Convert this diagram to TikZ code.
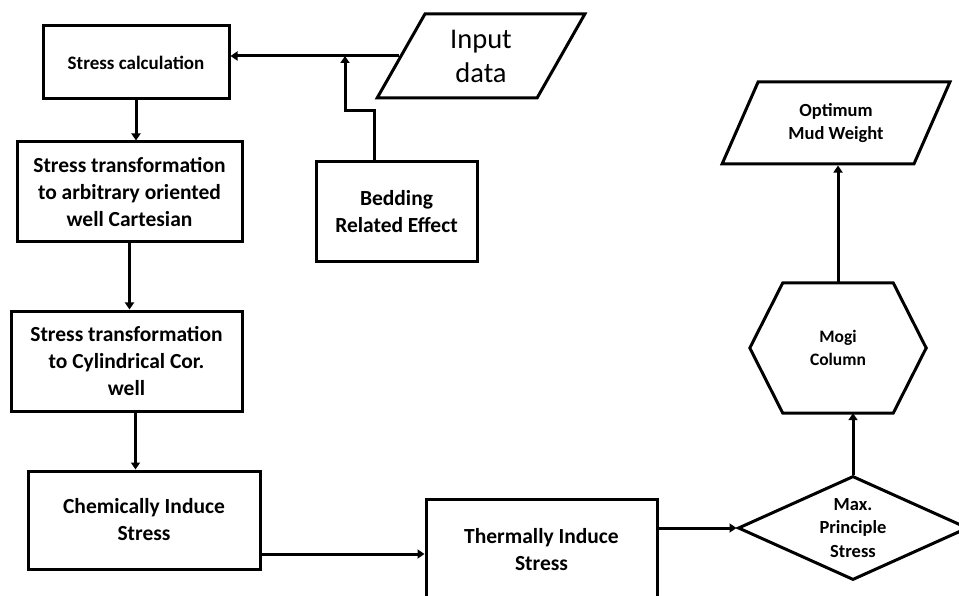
\documentclass[tikz,border=0pt]{standalone}
\usepackage{fontspec}
\setmainfont{Carlito}
\usetikzlibrary{arrows.meta,shapes.geometric}

\begin{document}
\begin{tikzpicture}[x=1pt,y=-1pt,
  box/.style={draw,line width=3pt,rectangle,align=center,font=\fontsize{21.5}{27}\selectfont\bfseries},
  para/.style={draw,line width=3pt,trapezium,trapezium stretches=true,align=center,inner sep=0pt},
  arr/.style={line width=3pt,-{Triangle[length=7pt,width=9pt]}}]
\useasboundingbox (0,0) rectangle (959,596);
\node[box,minimum width=186,minimum height=73,font=\fontsize{19}{23}\selectfont\bfseries] (calc) at (136,62.5) {Stress calculation};
\node[box,minimum width=225,minimum height=100] (trans1) at (129.5,192) {Stress transformation\\to arbitrary oriented\\well Cartesian};
\node[box,minimum width=231,minimum height=100] (trans2) at (126.5,361) {Stress transformation\\to Cylindrical Cor.\\well};
\node[box,minimum width=232,minimum height=98] (chem) at (144,520) {Chemically Induce\\Stress};
\node[box,minimum width=231,minimum height=100] (therm) at (541.5,549.5) {Thermally Induce\\Stress};
\node[box,minimum width=161,minimum height=100] (bed) at (396.5,212) {Bedding\\Related Effect};
\node[para,minimum width=208,minimum height=84,trapezium left angle=63.4,trapezium right angle=116.6,font=\fontsize{28.5}{34}\selectfont] (input) at (481,56) {Input\\data};
\node[para,minimum width=228,minimum height=82,trapezium left angle=60.7,trapezium right angle=119.3,font=\fontsize{18.5}{23}\selectfont\bfseries] (opt) at (836,123) {Optimum\\Mud Weight};
\node[diamond,draw,line width=3pt,aspect=2.2,minimum width=230,minimum height=104,inner sep=0pt,align=center,font=\fontsize{18.5}{23.5}\selectfont\bfseries] (maxp) at (853,528) {Max.\\Principle\\Stress};
\node[minimum width=176,minimum height=130,align=center,font=\fontsize{17.5}{23}\selectfont\bfseries] (mogi) at (838,348) {Mogi\\Column};
\draw[line width=3pt,line join=miter] (mogi.west) -- ([xshift=33pt]mogi.north west) -- ([xshift=-33pt]mogi.north east) -- (mogi.east) -- ([xshift=-33pt]mogi.south east) -- ([xshift=33pt]mogi.south west) -- cycle;
\coordinate (bend) at (345,111);
\draw[arr] (input.west) -- (input.west -| calc.east);
\draw[arr] ([xshift=-22.5pt]bed.north) |- (bend) -- (bend |- input.west);
\draw[arr] (calc.south) -- (calc.south |- trans1.north);
\draw[arr] (trans1.south) -- (trans1.south |- trans2.north);
\draw[arr] ([xshift=9pt]trans2.south) -- ([xshift=9pt]trans2.south |- chem.north);
\draw[arr] ([yshift=-34pt]chem.east) -- ([yshift=-34pt]chem.east -| therm.west);
\draw[arr] (therm.east |- maxp.west) -- (maxp.west);
\draw[arr] (maxp.north) -- (maxp.north |- mogi.south);
\draw[arr] (mogi.north) -- (mogi.north |- opt.south);
\end{tikzpicture}
\end{document}
